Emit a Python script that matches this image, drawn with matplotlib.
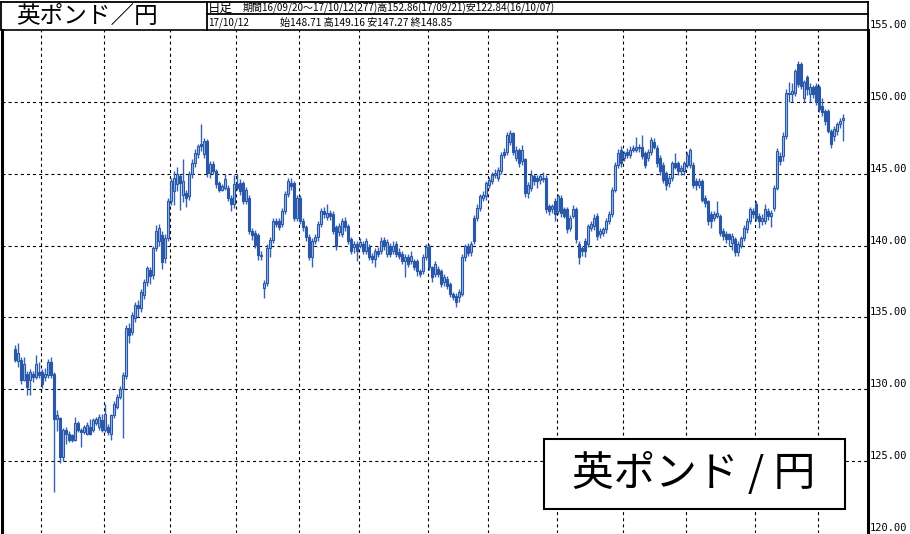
import matplotlib
matplotlib.use("Agg")
import matplotlib.pyplot as plt
from matplotlib.patches import Rectangle
from matplotlib.lines import Line2D

plt.rcParams['font.family'] = ['Noto Sans CJK JP', 'DejaVu Sans']
plt.rcParams['lines.scale_dashes'] = False

# 英ポンド/円 日足 16/09/20 ~ 17/10/12 (277本) -- bar index i = trading day
opens = [
    132.82, 132.00, 132.05, 130.63, 131.09, 130.63, 131.09, 130.86, 131.20, 131.20,
    130.86, 130.97, 131.90, 131.09, 127.96, 128.00, 125.30, 127.15, 126.92, 126.81,
    126.46, 127.62, 127.15, 127.04, 126.92, 127.38, 127.15, 127.62, 127.38, 127.85,
    127.15, 127.38, 126.92, 128.19, 128.77, 129.47, 130.05, 130.90, 134.23, 134.00,
    134.93, 135.86, 135.63, 136.56, 137.49, 138.31, 137.96, 139.83, 140.30, 140.76,
    139.13, 140.52, 143.09, 143.79, 144.25, 144.84, 143.55, 143.67, 143.44, 144.95,
    145.77, 146.35, 147.10, 146.35, 147.28, 145.07, 145.65, 145.20, 144.37, 143.90,
    144.02, 144.02, 143.32, 142.86, 144.25, 144.37, 144.37, 143.09, 143.32, 140.99,
    140.90, 140.76, 139.36, 137.03, 137.38, 139.83, 140.41, 141.69, 141.70, 141.49,
    142.41, 143.57, 144.38, 144.38, 141.95, 143.34, 141.72, 141.26, 140.57, 139.18,
    140.33, 140.57, 141.49, 142.41, 142.00, 142.30, 142.18, 141.26, 140.91, 140.80,
    141.72, 141.37, 140.45, 139.87, 140.10, 139.99, 140.10, 139.64, 139.87, 139.30,
    139.06, 139.64, 139.64, 140.38, 139.41, 139.99, 139.64, 140.10, 139.53, 139.41,
    138.95, 139.18, 138.95, 138.95, 138.95, 138.26, 138.26, 139.18, 139.87, 138.49,
    138.03, 138.38, 138.26, 137.45, 137.68, 137.33, 136.64, 136.52, 136.41, 136.64,
    139.18, 139.95, 139.52, 141.94, 141.94, 142.63, 143.32, 143.43, 144.24, 144.47,
    144.93, 144.70, 145.16, 146.54, 146.54, 147.24, 147.81, 146.08, 146.66, 145.85,
    146.00, 143.66, 144.01, 144.82, 144.70, 144.59, 144.70, 144.70, 142.74, 142.51,
    143.09, 142.40, 143.32, 142.51, 142.51, 141.24, 142.05, 142.51, 140.09, 139.86,
    140.32, 140.09, 141.24, 141.36, 142.05, 140.78, 140.90, 141.13, 141.71, 142.17,
    143.89, 145.62, 146.66, 146.08, 146.54, 146.31, 146.66, 146.66, 146.89, 146.89,
    146.43, 146.08, 146.54, 147.24, 146.77, 146.08, 145.62, 145.05, 144.35, 144.70,
    145.74, 145.74, 145.16, 145.16, 145.62, 145.62, 145.62, 144.47, 144.24, 144.47,
    143.32, 143.09, 142.17, 141.94, 142.05, 142.05, 141.01, 140.78, 140.78, 140.20,
    140.44, 139.52, 139.98, 140.55, 141.13, 141.71, 142.40, 142.86, 142.05, 141.71,
    141.71, 142.40, 142.05, 142.63, 144.02, 146.23, 146.23, 147.63, 150.65, 150.53,
    150.65, 152.60, 152.60, 150.30, 151.70, 150.53, 151.00, 151.12, 151.00, 149.72,
    149.37, 149.37, 147.98, 147.63, 147.98, 148.44, 148.71,
]
highs = [
    133.10, 133.20, 132.25, 132.25, 131.30, 131.40, 131.30, 132.40, 131.90, 131.40,
    131.50, 132.10, 132.25, 131.20, 128.54, 128.10, 127.30, 127.40, 127.10, 126.90,
    128.10, 127.80, 127.30, 127.50, 127.70, 127.96, 128.00, 128.10, 128.30, 128.30,
    129.00, 127.60, 128.30, 129.20, 129.70, 130.20, 131.20, 134.50, 134.60, 135.40,
    136.10, 136.20, 137.00, 137.70, 138.60, 138.50, 140.00, 141.40, 141.50, 141.00,
    140.80, 143.30, 144.70, 145.20, 145.50, 145.00, 146.00, 143.90, 145.20, 146.00,
    146.70, 147.10, 148.45, 147.50, 147.40, 145.90, 145.90, 145.30, 144.50, 144.30,
    145.00, 144.20, 143.50, 144.90, 145.00, 144.60, 144.50, 144.10, 143.50, 141.20,
    141.10, 140.90, 139.60, 137.60, 140.10, 140.60, 141.90, 141.90, 141.90, 142.64,
    143.80, 144.70, 144.72, 144.50, 143.50, 143.50, 141.90, 141.40, 140.80, 140.50,
    140.80, 141.70, 142.60, 142.70, 142.88, 142.50, 142.40, 141.40, 141.60, 141.90,
    142.00, 141.50, 140.60, 140.30, 140.30, 140.50, 140.30, 140.50, 140.10, 139.50,
    139.80, 139.90, 140.60, 140.60, 140.45, 140.20, 140.33, 140.30, 139.80, 139.60,
    139.40, 139.40, 139.60, 139.10, 139.10, 138.40, 139.40, 140.10, 140.10, 138.60,
    138.90, 138.60, 138.40, 138.00, 137.90, 137.50, 136.80, 136.70, 137.00, 139.40,
    140.10, 140.20, 140.30, 142.10, 142.90, 143.60, 143.80, 144.50, 144.80, 145.10,
    145.30, 145.50, 146.50, 146.77, 147.90, 148.04, 147.90, 146.90, 146.80, 147.00,
    146.10, 144.40, 145.28, 145.00, 144.90, 145.00, 145.10, 144.90, 142.90, 142.90,
    143.30, 143.60, 143.50, 142.70, 142.70, 142.10, 142.80, 142.70, 140.30, 140.00,
    140.50, 141.50, 141.70, 142.20, 142.30, 141.20, 141.30, 141.90, 142.40, 144.10,
    145.80, 146.70, 146.90, 146.60, 146.80, 146.90, 147.00, 147.58, 147.10, 147.70,
    146.60, 146.70, 147.58, 147.50, 147.00, 146.30, 145.80, 145.20, 144.90, 145.90,
    146.43, 145.90, 145.60, 145.90, 146.50, 146.80, 145.80, 144.70, 144.70, 144.60,
    143.50, 143.20, 142.40, 142.40, 143.09, 142.20, 141.20, 141.00, 140.90, 140.90,
    140.60, 140.30, 140.70, 141.40, 141.90, 142.70, 142.60, 143.10, 142.30, 142.20,
    142.90, 142.60, 142.50, 144.20, 146.80, 146.50, 147.90, 150.90, 151.40, 151.30,
    152.30, 152.86, 152.74, 151.50, 151.90, 151.30, 151.20, 151.30, 151.20, 150.30,
    149.50, 149.50, 148.10, 148.30, 148.60, 148.90, 149.16,
]
lows = [
    131.90, 131.55, 130.39, 130.55, 129.58, 129.60, 130.50, 130.70, 130.80, 130.10,
    130.60, 130.80, 130.80, 122.84, 127.10, 124.84, 125.00, 126.20, 126.30, 126.30,
    126.40, 127.00, 126.00, 126.90, 126.80, 126.80, 127.00, 127.50, 127.20, 127.00,
    127.00, 126.80, 126.50, 128.00, 128.60, 129.30, 126.60, 130.70, 133.20, 133.80,
    134.70, 135.00, 135.40, 136.30, 137.20, 137.30, 137.70, 139.60, 140.00, 138.40,
    138.80, 140.30, 142.80, 142.80, 143.80, 142.50, 143.00, 142.70, 143.20, 144.70,
    145.50, 146.10, 146.60, 146.10, 144.80, 144.70, 145.00, 144.00, 143.70, 143.80,
    143.90, 143.10, 142.40, 142.60, 143.90, 143.50, 142.90, 142.90, 140.80, 140.40,
    139.80, 139.00, 139.00, 136.33, 137.20, 139.20, 140.20, 141.30, 141.10, 141.26,
    142.20, 143.40, 143.90, 141.70, 141.70, 141.50, 141.00, 140.30, 139.00, 138.49,
    140.10, 140.30, 141.30, 141.90, 141.80, 141.80, 140.80, 139.70, 140.70, 140.60,
    141.00, 140.10, 139.40, 139.50, 138.95, 139.80, 139.40, 139.40, 139.00, 138.80,
    138.49, 139.20, 139.40, 139.70, 139.20, 139.20, 139.40, 139.20, 139.10, 138.70,
    137.79, 138.50, 138.70, 138.30, 137.90, 137.80, 138.00, 139.00, 138.30, 137.50,
    137.80, 137.80, 137.10, 137.20, 137.00, 136.40, 136.20, 135.72, 136.10, 136.50,
    138.90, 139.30, 139.30, 140.10, 141.70, 142.40, 143.10, 143.20, 144.00, 144.30,
    144.70, 144.50, 145.00, 146.10, 146.30, 147.00, 146.30, 145.90, 145.50, 145.60,
    143.40, 143.30, 143.80, 144.20, 144.00, 144.30, 144.40, 142.30, 142.10, 142.30,
    141.71, 142.20, 142.00, 141.90, 140.90, 141.00, 141.90, 140.20, 138.71, 139.30,
    139.20, 139.90, 141.00, 141.10, 140.40, 140.50, 140.70, 140.90, 141.50, 142.00,
    143.70, 145.40, 145.50, 145.90, 146.10, 146.10, 146.50, 146.50, 146.50, 146.00,
    145.40, 145.90, 146.30, 146.70, 145.50, 144.90, 144.35, 143.90, 144.10, 144.50,
    145.30, 144.90, 144.90, 144.90, 145.40, 145.40, 144.00, 143.90, 144.00, 143.00,
    142.70, 141.40, 141.20, 141.70, 141.90, 140.70, 140.40, 140.20, 140.00, 139.70,
    139.30, 139.29, 139.80, 140.30, 140.90, 141.50, 141.90, 141.70, 141.20, 141.40,
    141.50, 141.80, 141.30, 142.40, 143.90, 145.60, 145.90, 147.40, 150.00, 150.00,
    150.40, 151.00, 150.90, 150.00, 150.50, 150.00, 150.30, 149.80, 149.30, 149.00,
    148.40, 147.80, 146.80, 147.30, 147.70, 148.20, 147.27,
]
closes = [
    132.01, 132.55, 130.63, 131.78, 130.16, 131.20, 130.86, 131.78, 130.97, 130.39,
    131.09, 131.90, 130.97, 127.96, 128.19, 125.30, 127.15, 126.92, 126.46, 126.46,
    127.62, 127.15, 127.04, 127.38, 127.50, 126.92, 127.85, 127.96, 128.08, 127.15,
    128.31, 127.04, 128.19, 129.00, 129.47, 130.05, 130.97, 134.23, 133.76, 135.16,
    135.86, 135.63, 136.79, 137.49, 138.43, 137.90, 139.83, 140.99, 141.22, 138.89,
    140.52, 143.09, 144.49, 144.72, 144.95, 144.37, 144.49, 143.32, 144.95, 145.77,
    146.47, 146.93, 146.93, 147.28, 145.07, 145.65, 145.20, 144.25, 143.90, 144.14,
    144.60, 143.32, 142.86, 144.25, 144.02, 143.79, 143.09, 143.90, 140.99, 140.76,
    140.06, 139.36, 139.30, 137.38, 139.83, 140.41, 141.70, 141.50, 141.30, 142.41,
    143.57, 144.49, 144.15, 141.95, 143.34, 141.72, 141.26, 140.57, 139.18, 140.33,
    140.57, 141.49, 142.41, 142.18, 142.30, 142.07, 141.03, 139.99, 141.37, 141.72,
    141.26, 140.33, 139.64, 140.10, 139.64, 140.22, 139.64, 140.33, 139.18, 139.06,
    139.64, 139.41, 140.33, 139.99, 140.22, 139.41, 139.99, 139.41, 139.30, 138.95,
    139.18, 138.72, 139.30, 138.49, 138.26, 138.03, 139.18, 139.87, 138.49, 137.79,
    138.72, 138.03, 137.33, 137.79, 137.22, 136.64, 136.41, 136.06, 136.75, 139.18,
    139.95, 139.45, 140.09, 140.32, 142.63, 143.43, 143.55, 144.35, 144.59, 144.93,
    145.05, 145.28, 146.31, 146.31, 147.70, 147.81, 146.54, 146.66, 145.74, 146.66,
    143.66, 144.24, 144.93, 144.47, 144.47, 144.82, 144.65, 142.51, 142.40, 142.74,
    142.17, 143.43, 142.28, 142.05, 141.13, 141.94, 142.51, 140.44, 139.17, 139.63,
    139.63, 141.36, 141.47, 141.94, 140.67, 141.01, 141.13, 141.71, 142.17, 143.89,
    145.62, 146.43, 145.74, 146.43, 146.31, 146.66, 146.77, 146.89, 146.77, 146.20,
    145.62, 146.54, 147.35, 146.89, 145.74, 145.16, 144.59, 144.24, 144.70, 145.74,
    145.50, 145.16, 145.39, 145.74, 146.31, 146.66, 144.24, 144.24, 144.47, 143.20,
    142.97, 141.71, 141.71, 142.17, 142.28, 140.90, 140.67, 140.44, 140.44, 140.67,
    139.52, 140.09, 140.55, 141.24, 141.71, 142.51, 142.17, 141.94, 141.71, 141.94,
    142.51, 142.05, 142.28, 144.02, 146.58, 145.88, 147.63, 150.65, 150.53, 150.77,
    152.16, 151.23, 151.12, 151.35, 150.88, 151.00, 150.53, 150.07, 149.49, 149.26,
    148.67, 147.98, 147.05, 148.09, 148.44, 148.67, 148.85,
]

# first trading day of each month (bar index) -> vertical grid
month_starts = [9, 30, 52, 74, 95, 115, 138, 158, 181, 203, 224, 247, 268]
price_ticks = [120, 125, 130, 135, 140, 145, 150, 155]

title = '英ポンド／円'
info_line1 = '期間16/09/20〜17/10/12(277)高152.86(17/09/21)安122.84(16/10/07)'
info_date = '17/10/12'
info_line2 = '始148.71 高149.16 安147.27 終148.85'
box_label = '英ポンド / 円'

W, H = 910, 534
fig = plt.figure(figsize=(W / 100, H / 100), dpi=100)
fig.patch.set_facecolor('white')

L, R, T, B = 1.5, 868, 30, 533
ax = fig.add_axes([L / W, 1 - B / H, (R - L) / W, (B - T) / H])
xmin = -4.5
ax.set_xlim(xmin, xmin + (R - L) / 3.0)
ax.set_ylim(120, 155)

dark = '#2A58A8'
light = '#9FBAE6'
wick = '#3563B4'

n = len(closes)
xs = list(range(n))
ax.vlines(xs, lows, highs, color=wick, linewidth=1.0, zorder=3)
for i in xs:
    o, c = opens[i], closes[i]
    lo, hi = min(o, c), max(o, c)
    fc = light if c >= o else dark
    ax.add_patch(Rectangle((i - 0.45, lo), 0.9, max(hi - lo, 0.06),
                           facecolor=fc, edgecolor=dark, linewidth=0.8, zorder=4))

grid_style = dict(color='black', linewidth=0.8, linestyle=(0, (2.2, 2.2)), zorder=1)
for p in price_ticks[1:-1]:
    ax.axhline(p, **grid_style)
for m in month_starts:
    ax.axvline(m - 0.3, **grid_style)

ax.set_xticks([])
ax.yaxis.tick_right()
ax.set_yticks(price_ticks)
ax.set_yticklabels([f'{p:.2f}' for p in price_ticks])
ax.tick_params(axis='y', length=0, pad=1.5, labelsize=7.5)
for lbl in ax.get_yticklabels():
    lbl.set_va('bottom')
    lbl.set_family('DejaVu Sans Mono')

for s in ['left', 'right']:
    ax.spines[s].set_linewidth(2.2)
ax.spines['top'].set_linewidth(1.2)
ax.spines['bottom'].set_visible(False)

# header and label box, drawn in pixel coordinates
ov = fig.add_axes([0, 0, 1, 1])
ov.set_xlim(0, W)
ov.set_ylim(H, 0)
ov.axis('off')
for xy in [((0.5, R), (1.5, 1.5)), ((207, 207), (1.5, T)), ((207, R), (14, 14)),
           ((R, R), (1.5, T)), ((0.8, 0.8), (1.5, T))]:
    ov.add_line(Line2D(xy[0], xy[1], color='black', linewidth=1.3))

ov.text(16, 16.5, title, fontsize=17, ha='left', va='center')
ov.text(208, 8, '日足', fontsize=9, ha='left', va='center')
ov.text(243, 8.5, info_line1, fontsize=7.2, ha='left', va='center')
ov.text(208, 22.5, info_date, fontsize=7.2, ha='left', va='center')
ov.text(280, 22.5, info_line2, fontsize=7.3, ha='left', va='center')

ov.add_patch(Rectangle((544, 439), 301, 70, facecolor='white', edgecolor='black',
                       linewidth=1.5, zorder=5))
ov.text(694, 474, box_label, fontsize=30, ha='center', va='center', zorder=6)

fig.savefig('out.png', dpi=100, facecolor='white')
